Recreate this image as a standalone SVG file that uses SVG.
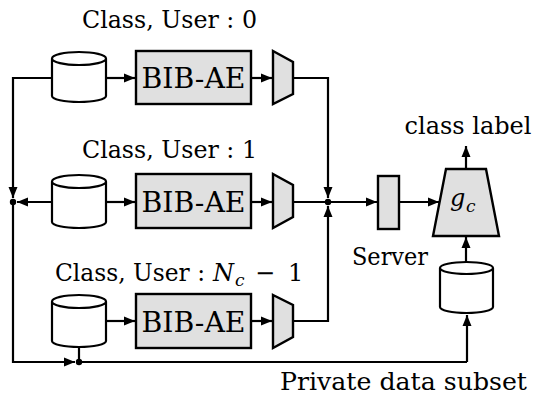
<svg xmlns="http://www.w3.org/2000/svg" width="544" height="399" viewBox="0 0 544 399">
<defs>
<marker id="ah" markerUnits="userSpaceOnUse" markerWidth="12" markerHeight="10" refX="11" refY="5" orient="auto">
<path d="M0,0.5 L11,5 L0,9.5 Z" fill="#000"/>
</marker>
<style>
.ln{fill:none;stroke:#000;stroke-width:2.2}
.ar{fill:none;stroke:#000;stroke-width:2.2;marker-end:url(#ah)}
.box{fill:#e0e0e0;stroke:#000;stroke-width:2.4}
.cyl{fill:#fff;stroke:#000;stroke-width:2.2}
text{font-family:'DejaVu Serif','Liberation Serif',serif;fill:#000}
.t{font-size:24px}
.bt{font-size:27px}
.it{font-style:italic}
.sub{font-size:17px;font-style:italic}
</style>
</defs>
<rect width="544" height="399" fill="#fff"/>

<g id="connectors">
<path class="ar" d="M52,78 H13 V198"/>
<path class="ar" d="M52,202 H17"/>
<path class="ar" d="M13,202 V362 H75"/>
<path class="ln" d="M79,347 V362 H467"/>
<path class="ar" d="M467,362 V315"/>
<path class="ar" d="M106,78 H135"/>
<path class="ar" d="M106,202 H135"/>
<path class="ar" d="M106,321 H135"/>
<path class="ar" d="M251,78 H272"/>
<path class="ar" d="M251,202 H272"/>
<path class="ar" d="M251,321 H272"/>
<path class="ar" d="M293,78 H328 V198"/>
<path class="ln" d="M293,202 H328"/>
<path class="ar" d="M293,321 H328 V206"/>
<path class="ar" d="M328,202 H377"/>
<path class="ar" d="M399,202 H439"/>
<path class="ar" d="M466,169 V146"/>
<path class="ar" d="M466,262 V237"/>
<circle cx="13" cy="202" r="3.2"/>
<circle cx="328" cy="202" r="3.2"/>
<circle cx="79" cy="362" r="3.2"/>
</g>

<g id="user0">
<text class="t" x="82" y="28" textLength="175" lengthAdjust="spacingAndGlyphs">Class, User : 0</text>
<g id="db0">
<path class="cyl" d="M52,58.5 V96 A27,6 0 0 0 106,96 V58.5"/>
<ellipse class="cyl" cx="79" cy="58.5" rx="27" ry="6.5"/>
</g>
<g id="ae0">
<rect class="box" x="136" y="51" width="115" height="53"/>
<text class="bt" x="193.5" y="88" text-anchor="middle" textLength="104" lengthAdjust="spacingAndGlyphs">BIB-AE</text>
</g>
<path id="enc0" class="box" d="M273,51 L293,62 L293,94 L273,104 Z"/>
</g>

<g id="user1">
<text class="t" x="82" y="158" textLength="175" lengthAdjust="spacingAndGlyphs">Class, User : 1</text>
<g id="db1">
<path class="cyl" d="M52,181.5 V222 A27,6 0 0 0 106,222 V181.5"/>
<ellipse class="cyl" cx="79" cy="181.5" rx="27" ry="6.5"/>
</g>
<g id="ae1">
<rect class="box" x="136" y="174" width="115" height="54"/>
<text class="bt" x="193.5" y="212" text-anchor="middle" textLength="104" lengthAdjust="spacingAndGlyphs">BIB-AE</text>
</g>
<path id="enc1" class="box" d="M273,174 L293,185 L293,217 L273,228 Z"/>
</g>

<g id="userN">
<text class="t" x="55" y="281" textLength="150" lengthAdjust="spacingAndGlyphs">Class, User :</text>
<text class="t it" x="213" y="281">N</text>
<text class="sub" x="235" y="286">c</text>
<text class="t" x="255" y="281">−</text>
<text class="t" x="288" y="281">1</text>
<g id="dbN">
<path class="cyl" d="M52,301.5 V341 A27,6 0 0 0 106,341 V301.5"/>
<ellipse class="cyl" cx="79" cy="301.5" rx="27" ry="6.5"/>
</g>
<g id="aeN">
<rect class="box" x="136" y="294" width="115" height="54"/>
<text class="bt" x="193.5" y="332" text-anchor="middle" textLength="104" lengthAdjust="spacingAndGlyphs">BIB-AE</text>
</g>
<path id="encN" class="box" d="M273,295 L293,305 L293,337 L273,348 Z"/>
</g>

<g id="server">
<rect class="box" x="378" y="176" width="21" height="53"/>
<text class="t" x="390" y="265" text-anchor="middle" textLength="76" lengthAdjust="spacingAndGlyphs">Server</text>
</g>

<g id="gc">
<path class="box" d="M446,169 L486,169 L499,236 L433,236 Z"/>
<text class="t it" x="450" y="206">g</text>
<text class="sub" x="466" y="212">c</text>
</g>

<g id="classlabel">
<text class="t" x="468" y="134" text-anchor="middle" textLength="127" lengthAdjust="spacingAndGlyphs">class label</text>
</g>

<g id="privatedata">
<path class="cyl" d="M440,268 V307 A26.5,6 0 0 0 493,307 V268"/>
<ellipse class="cyl" cx="466.5" cy="268" rx="26.5" ry="6"/>
<text class="t" x="280" y="390" textLength="247" lengthAdjust="spacingAndGlyphs">Private data subset</text>
</g>
</svg>
